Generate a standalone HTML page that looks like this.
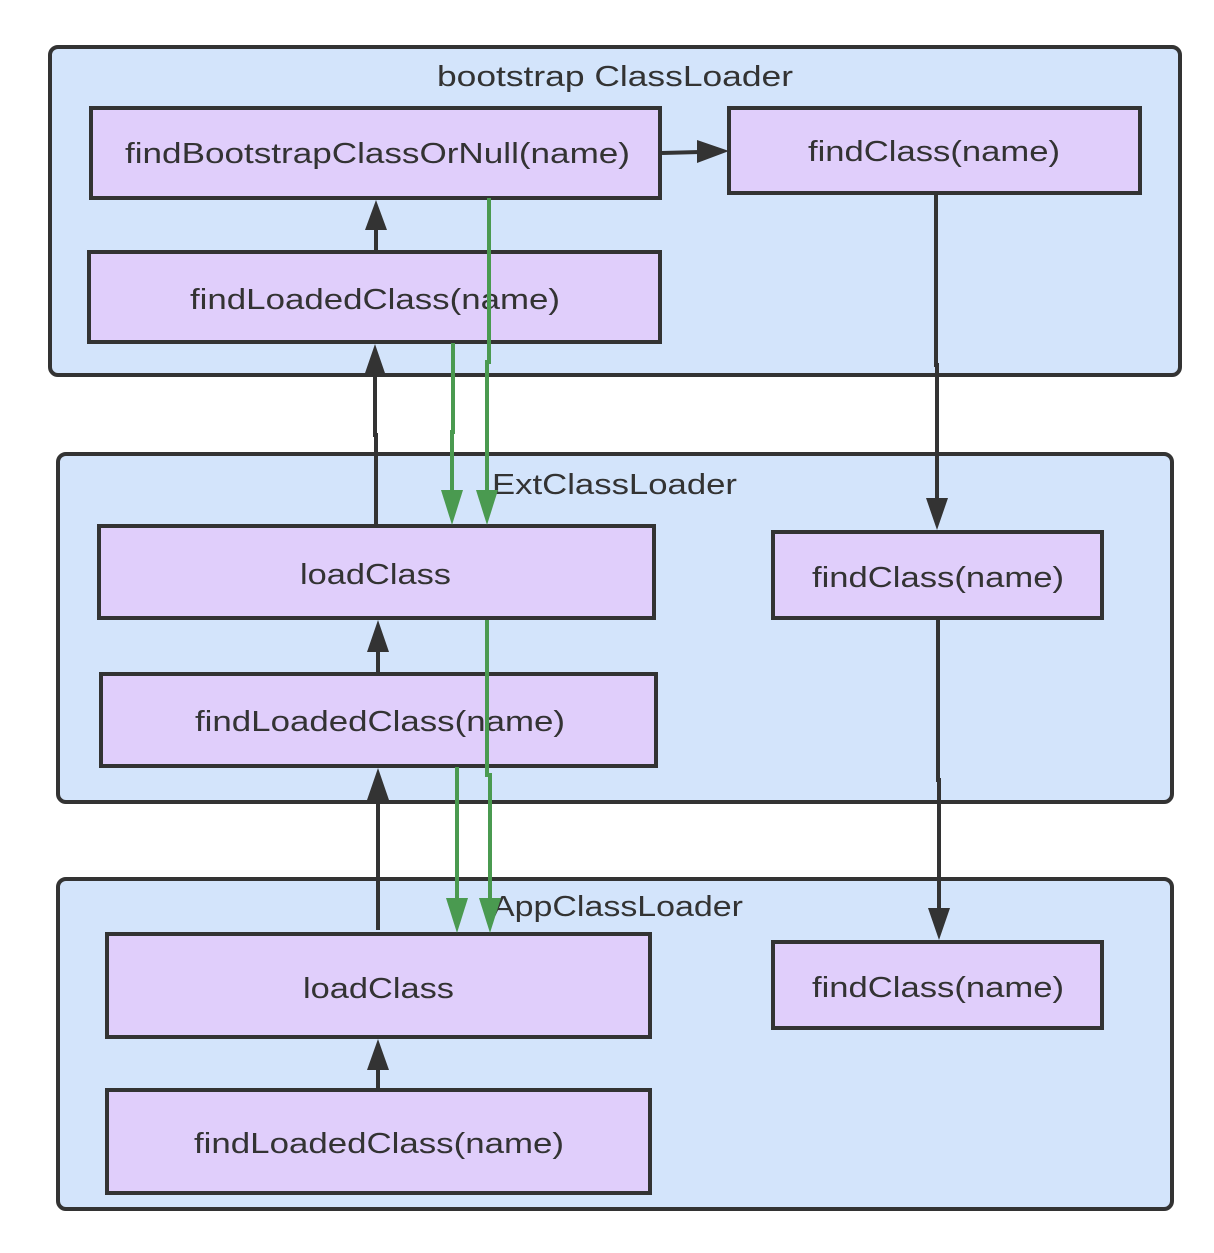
<!DOCTYPE html>
<html><head><meta charset="utf-8"><style>html,body{margin:0;padding:0;background:#fff}</style></head>
<body>
<svg width="1214" height="1248" viewBox="0 0 1214 1248" xmlns="http://www.w3.org/2000/svg" font-family="Liberation Sans, sans-serif" font-size="29" fill="#333">
<defs>
<marker id="ab" markerWidth="10" markerHeight="8" refX="9" refY="4" orient="auto" markerUnits="userSpaceOnUse" viewBox="0 0 10 8"><path d="M0,0 L10,4 L0,8z" fill="#333"/></marker>
</defs>
<g stroke="#333" stroke-width="4" fill="#d3e4fb">
<rect x="50" y="47" width="1130" height="328" rx="8"/>
<rect x="58" y="454" width="1114" height="348" rx="8"/>
<rect x="58" y="879" width="1114" height="330" rx="8"/>
</g>
<g stroke="#333" stroke-width="4" fill="#e0cefb">
<rect x="91" y="108" width="569" height="90"/>
<rect x="729" y="108" width="411" height="85"/>
<rect x="89" y="252" width="571" height="90"/>
<rect x="99" y="526" width="555" height="92"/>
<rect x="773" y="532" width="329" height="86"/>
<rect x="101" y="674" width="555" height="92"/>
<rect x="107" y="934" width="543" height="103"/>
<rect x="773" y="942" width="329" height="86"/>
<rect x="107" y="1090" width="543" height="103"/>
</g>
<g fill="#333">
<text x="437" y="86" textLength="356" lengthAdjust="spacingAndGlyphs">bootstrap ClassLoader</text>
<text x="492" y="494" textLength="245" lengthAdjust="spacingAndGlyphs">ExtClassLoader</text>
<text x="492" y="916" textLength="251" lengthAdjust="spacingAndGlyphs">AppClassLoader</text>
<text x="125" y="163" textLength="505" lengthAdjust="spacingAndGlyphs">findBootstrapClassOrNull(name)</text>
<text x="808" y="161" textLength="252" lengthAdjust="spacingAndGlyphs">findClass(name)</text>
<text x="190" y="309" textLength="370" lengthAdjust="spacingAndGlyphs">findLoadedClass(name)</text>
<text x="300" y="584" textLength="151" lengthAdjust="spacingAndGlyphs">loadClass</text>
<text x="812" y="587" textLength="252" lengthAdjust="spacingAndGlyphs">findClass(name)</text>
<text x="195" y="731" textLength="370" lengthAdjust="spacingAndGlyphs">findLoadedClass(name)</text>
<text x="303" y="998" textLength="151" lengthAdjust="spacingAndGlyphs">loadClass</text>
<text x="812" y="997" textLength="252" lengthAdjust="spacingAndGlyphs">findClass(name)</text>
<text x="194" y="1153" textLength="370" lengthAdjust="spacingAndGlyphs">findLoadedClass(name)</text>
</g>
<g stroke="#333" stroke-width="4" fill="none">
<path d="M662 153 L700 152"/>
<path d="M376 250 L376 226"/>
<path d="M376 524 L376 435 L375 435 L375 376"/>
<path d="M378 672 L378 650"/>
<path d="M378 930 L378 800"/>
<path d="M378 1088 L378 1068"/>
<path d="M936 195 L936 365 L937 365 L937 500"/>
<path d="M938 620 L938 780 L939 780 L939 910"/>
</g>
<g fill="#333">
<path d="M729 151 L697 140 L697 163z"/>
<path d="M376 200 L365 230 L387 230z"/>
<path d="M375 344 L364 376 L386 376z"/>
<path d="M378 620 L367 652 L389 652z"/>
<path d="M378 768 L367 800 L389 800z"/>
<path d="M378 1039 L367 1070 L389 1070z"/>
<path d="M937 530 L926 498 L948 498z"/>
<path d="M939 940 L928 908 L950 908z"/>
</g>
<g stroke="#4a9a50" stroke-width="4" fill="none">
<path d="M489 198 L489 362 L487 362 L487 495"/>
<path d="M453 343 L453 432 L452 432 L452 495"/>
<path d="M487 620 L487 775 L490 775 L490 902"/>
<path d="M457 767 L457 902"/>
</g>
<g fill="#4a9a50">
<path d="M487 525 L476 490 L498 490z"/>
<path d="M452 525 L441 490 L463 490z"/>
<path d="M490 933 L479 898 L501 898z"/>
<path d="M457 933 L446 898 L468 898z"/>
</g>
</svg>
</body></html>
